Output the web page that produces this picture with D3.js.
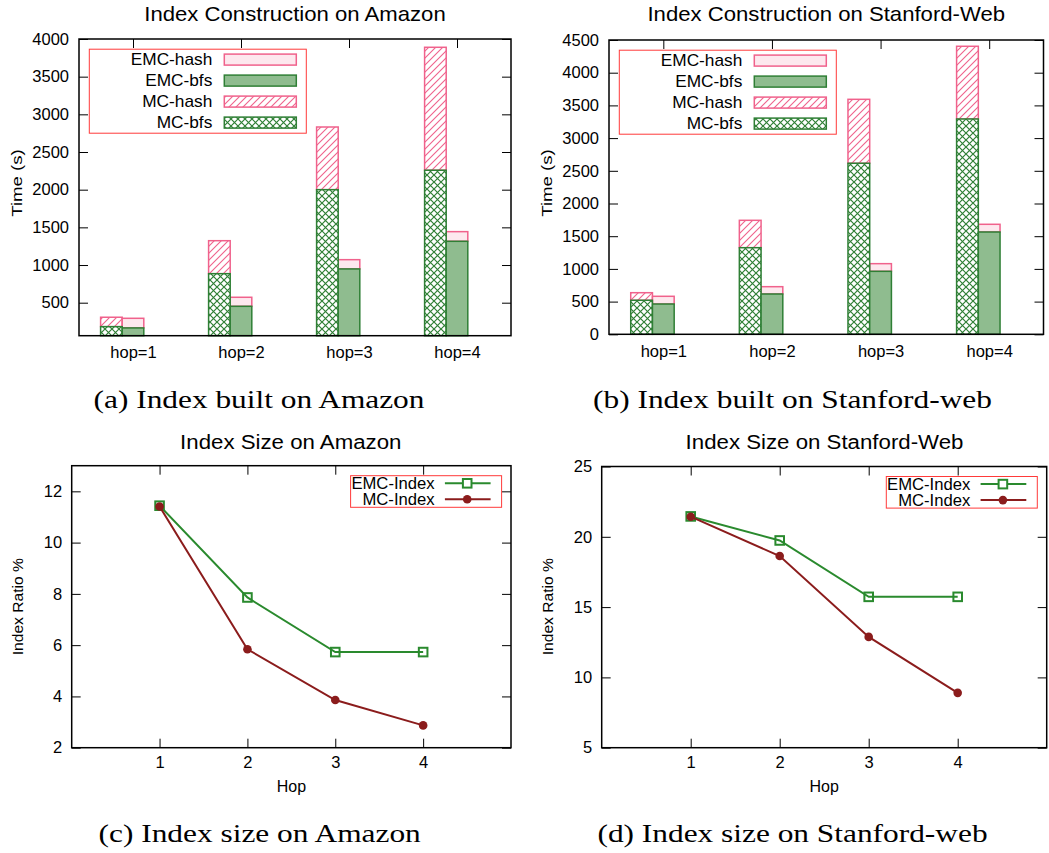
<!DOCTYPE html>
<html>
<head>
<meta charset="utf-8">
<script src="https://cdn.jsdelivr.net/npm/d3@7"></script>
<style>body{margin:0;background:#fff}</style>
</head>
<body>
<script>
// categories
const hops = [1, 2, 3, 4];
const hopLabels = ["hop=1", "hop=2", "hop=3", "hop=4"];

// index construction time (s), stacked: bfs part at the bottom, hash part on top
const mcBfsAmazon = [182, 885, 2000, 2258];
const mcHashAmazon = [125, 438, 832, 1632];
const emcBfsAmazon = [165, 452, 948, 1315];
const emcHashAmazon = [128, 120, 123, 128];

const mcBfsStanford = [520, 1324, 2615, 3292];
const mcHashStanford = [116, 419, 978, 1112];
const emcBfsStanford = [463, 616, 963, 1564];
const emcHashStanford = [118, 112, 117, 118];

// index ratio %
const emcSizeAmazon = [11.44, 7.86, 5.73, 5.73];
const mcSizeAmazon = [11.41, 5.84, 3.86, 2.87];
const emcSizeStanford = [21.45, 19.74, 15.73, 15.73];
const mcSizeStanford = [21.43, 18.63, 12.88, 8.9];

// tick labels
const timeTicksAmazon = [500, 1000, 1500, 2000, 2500, 3000, 3500, 4000];
const timeTicksStanford = [0, 500, 1000, 1500, 2000, 2500, 3000, 3500, 4000, 4500];
const ratioTicksAmazon = [2, 4, 6, 8, 10, 12];
const ratioTicksStanford = [5, 10, 15, 20, 25];

const barLegend = ["EMC-hash", "EMC-bfs", "MC-hash", "MC-bfs"];
const lineLegend = ["EMC-Index", "MC-Index"];

const PINK = "#f0628c";
const PINK_FILL = "#fde8ee";
const GREEN = "#2f7f35";
const GREEN_FILL = "#8fbc8f";
const LINE_GREEN = "#2a8a2e";
const LINE_RED = "#8b1c1c";
const SANS = "'Liberation Sans', Arial, sans-serif";
const SERIF = "'Liberation Serif', 'Times New Roman', serif";
const TICK_SIZE = 16.5;

const svg = d3.select("body").append("svg")
    .attr("width", 1049)
    .attr("height", 853);

const defs = svg.append("defs");
const hatch = defs.append("pattern").attr("id", "hatch")
    .attr("patternUnits", "userSpaceOnUse").attr("width", 7).attr("height", 7);
hatch.append("rect").attr("width", 7).attr("height", 7).attr("fill", "#fff");
hatch.append("path").attr("d", "M0,7L7,0M-1,1L1,-1M6,8L8,6")
    .attr("stroke", PINK).attr("stroke-width", 1.1);
const cross = defs.append("pattern").attr("id", "cross")
    .attr("patternUnits", "userSpaceOnUse").attr("width", 7).attr("height", 7);
cross.append("rect").attr("width", 7).attr("height", 7).attr("fill", "#fff");
cross.append("path").attr("d", "M0,0L7,7M0,7L7,0")
    .attr("stroke", GREEN).attr("stroke-width", 1.2);

function txt(g, x, y, s, size, opt = {}) {
    return g.append("text")
        .attr("transform", `translate(${x},${y})` + (opt.rot ? ` rotate(${opt.rot})` : "") + ` scale(${opt.sx || 1},1)`)
        .attr("text-anchor", opt.anchor || "middle")
        .attr("font-family", opt.serif ? SERIF : SANS)
        .attr("font-size", size)
        .attr("fill", "#000")
        .text(s);
}

function styleAxis(a) {
    a.select(".domain").remove();
    a.attr("font-size", TICK_SIZE).attr("font-family", SANS);
    a.selectAll("line").attr("stroke", "#000").attr("stroke-width", 1);
    a.selectAll("text").attr("fill", "#000");
}

const intFmt = d3.format("d");

function barChart(o) {
    const g = svg.append("g");
    const x = d3.scaleLinear().domain([0.5, 4.5]).range([o.left, o.right]);
    const y = d3.scaleLinear().domain(o.yDomain).range([o.bottom, o.top]);
    const base = o.yDomain[0];

    const rows = hops.map((h, i) => ({
        h,
        mcBfs: o.mcBfs[i], mcTop: o.mcBfs[i] + o.mcHash[i],
        emcBfs: o.emcBfs[i], emcTop: o.emcBfs[i] + o.emcHash[i]
    }));
    const bw = x(0.7) - x(0.5);

    // hash parts first, bfs parts over them
    g.selectAll(".mch").data(rows).join("rect")
        .attr("x", d => x(d.h - 0.3)).attr("width", bw)
        .attr("y", d => y(d.mcTop)).attr("height", d => y(d.mcBfs) - y(d.mcTop))
        .attr("fill", "url(#hatch)").attr("stroke", PINK).attr("stroke-width", 1.5);
    g.selectAll(".emch").data(rows).join("rect")
        .attr("x", d => x(d.h - 0.1)).attr("width", bw)
        .attr("y", d => y(d.emcTop)).attr("height", d => y(d.emcBfs) - y(d.emcTop))
        .attr("fill", PINK_FILL).attr("stroke", PINK).attr("stroke-width", 1.5);
    g.selectAll(".mcb").data(rows).join("rect")
        .attr("x", d => x(d.h - 0.3)).attr("width", bw)
        .attr("y", d => y(d.mcBfs)).attr("height", d => y(base) - y(d.mcBfs))
        .attr("fill", "url(#cross)").attr("stroke", GREEN).attr("stroke-width", 1.5);
    g.selectAll(".emcb").data(rows).join("rect")
        .attr("x", d => x(d.h - 0.1)).attr("width", bw)
        .attr("y", d => y(d.emcBfs)).attr("height", d => y(base) - y(d.emcBfs))
        .attr("fill", GREEN_FILL).attr("stroke", GREEN).attr("stroke-width", 1.5);

    g.append("g").attr("transform", `translate(${o.left},0)`)
        .call(d3.axisLeft(y).tickValues(o.yTicks).tickFormat(intFmt).tickSizeInner(-9).tickSizeOuter(0).tickPadding(10))
        .call(styleAxis);
    g.append("g").attr("transform", `translate(${o.right},0)`)
        .call(d3.axisRight(y).tickValues(o.yTicks).tickSizeInner(-9).tickSizeOuter(0).tickFormat(""))
        .call(styleAxis);
    g.append("g").attr("transform", `translate(0,${o.top})`)
        .call(d3.axisTop(x).tickValues(hops).tickSizeInner(-9).tickSizeOuter(0).tickFormat(""))
        .call(styleAxis);
    g.append("g").attr("transform", `translate(0,${o.bottom})`)
        .call(d3.axisBottom(x).tickValues(hops).tickFormat((d, i) => hopLabels[i]).tickSize(0).tickPadding(11))
        .call(styleAxis);

    g.append("rect").attr("x", o.left).attr("y", o.top)
        .attr("width", o.right - o.left).attr("height", o.bottom - o.top)
        .attr("fill", "none").attr("stroke", "#000").attr("stroke-width", 1.5);

    // legend
    const lx = o.left + 10.3, ly = o.top + 10.2;
    g.append("rect").attr("x", lx).attr("y", ly).attr("width", 217).attr("height", 84)
        .attr("fill", "#fff").attr("stroke", "#ff3a3a").attr("stroke-width", 1);
    const fills = [PINK_FILL, GREEN_FILL, "url(#hatch)", "url(#cross)"];
    const strokes = [PINK, GREEN, PINK, GREEN];
    barLegend.forEach((name, k) => {
        const ry = ly + 10.4 + k * 21;
        txt(g, lx + 123, ry + 5.7, name, 16, {anchor: "end", sx: 1.08});
        g.append("rect").attr("x", lx + 135).attr("y", ry - 5.5).attr("width", 72).attr("height", 11)
            .attr("fill", fills[k]).attr("stroke", strokes[k]).attr("stroke-width", 1.5);
    });

    txt(g, (o.left + o.right) / 2, 20.7, o.title, 20.5, {sx: 1.08});
    txt(g, o.left - 57, 183, "Time (s)", 15.5, {rot: -90, sx: 1.2});
    txt(g, o.captionX, 408.3, o.caption, 25.5, {serif: true, sx: 1.23});
}

function lineChart(o) {
    const g = svg.append("g");
    const x = d3.scaleLinear().domain([0, 5]).range([o.left, o.right]);
    const y = d3.scaleLinear().domain(o.yDomain).range([o.bottom, o.top]);

    g.append("g").attr("transform", `translate(${o.left},0)`)
        .call(d3.axisLeft(y).tickValues(o.yTicks).tickFormat(intFmt).tickSizeInner(-9).tickSizeOuter(0).tickPadding(9.5))
        .call(styleAxis);
    g.append("g").attr("transform", `translate(${o.right},0)`)
        .call(d3.axisRight(y).tickValues(o.yTicks).tickSizeInner(-9).tickSizeOuter(0).tickFormat(""))
        .call(styleAxis);
    g.append("g").attr("transform", `translate(0,${o.top})`)
        .call(d3.axisTop(x).tickValues(hops).tickSizeInner(-9).tickSizeOuter(0).tickFormat(""))
        .call(styleAxis);
    g.append("g").attr("transform", `translate(0,${o.bottom})`)
        .call(d3.axisBottom(x).tickValues(hops).tickFormat(intFmt).tickSizeInner(-9).tickSizeOuter(0).tickPadding(9))
        .call(styleAxis);

    g.append("rect").attr("x", o.left).attr("y", o.top)
        .attr("width", o.right - o.left).attr("height", o.bottom - o.top)
        .attr("fill", "none").attr("stroke", "#000").attr("stroke-width", 1.5);

    const line = d3.line().x((d, i) => x(hops[i])).y(d => y(d));
    g.append("path").attr("d", line(o.emc)).attr("fill", "none")
        .attr("stroke", LINE_GREEN).attr("stroke-width", 2);
    g.selectAll(".sq").data(o.emc).join("rect")
        .attr("x", (d, i) => x(hops[i]) - 4.3).attr("y", d => y(d) - 4.3)
        .attr("width", 8.6).attr("height", 8.6)
        .attr("fill", "none").attr("stroke", LINE_GREEN).attr("stroke-width", 2);
    g.append("path").attr("d", line(o.mc)).attr("fill", "none")
        .attr("stroke", LINE_RED).attr("stroke-width", 2);
    g.selectAll(".dot").data(o.mc).join("circle")
        .attr("cx", (d, i) => x(hops[i])).attr("cy", d => y(d)).attr("r", 4.3)
        .attr("fill", LINE_RED);

    // legend
    const lx = o.right - 9.4 - 151, ly = o.top + 10;
    g.append("rect").attr("x", lx).attr("y", ly).attr("width", 151).attr("height", 31.6)
        .attr("fill", "#fff").attr("stroke", "#ff3a3a").attr("stroke-width", 1);
    lineLegend.forEach((name, k) => {
        const ry = ly + 7.6 + k * 16;
        const col = k === 0 ? LINE_GREEN : LINE_RED;
        txt(g, lx + 84, ry + 5.5, name, 16, {anchor: "end", sx: 1.04});
        g.append("line").attr("x1", lx + 94.3).attr("x2", lx + 140).attr("y1", ry).attr("y2", ry)
            .attr("stroke", col).attr("stroke-width", 2);
        if (k === 0) {
            g.append("rect").attr("x", lx + 116.6 - 4.3).attr("y", ry - 4.3).attr("width", 8.6).attr("height", 8.6)
                .attr("fill", "#fff").attr("stroke", col).attr("stroke-width", 2);
        } else {
            g.append("circle").attr("cx", lx + 116.6).attr("cy", ry).attr("r", 4.3).attr("fill", col);
        }
    });

    txt(g, o.titleX, 449.3, o.title, 21, {sx: 1.06});
    txt(g, o.left - 49, 606.7, "Index Ratio %", 15, {rot: -90, sx: 1.04});
    txt(g, (x(2) + x(3)) / 2, 791.7, "Hop", 16);
    txt(g, o.captionX, 841.7, o.caption, 25.5, {serif: true, sx: 1.23});
}

barChart({
    left: 79, right: 511, top: 39, bottom: 335.7,
    yDomain: [62, 4000], yTicks: timeTicksAmazon,
    mcBfs: mcBfsAmazon, mcHash: mcHashAmazon, emcBfs: emcBfsAmazon, emcHash: emcHashAmazon,
    title: "Index Construction on Amazon",
    caption: "(a) Index built on Amazon", captionX: 259
});
barChart({
    left: 609, right: 1043.5, top: 40, bottom: 334.3,
    yDomain: [0, 4500], yTicks: timeTicksStanford,
    mcBfs: mcBfsStanford, mcHash: mcHashStanford, emcBfs: emcBfsStanford, emcHash: emcHashStanford,
    title: "Index Construction on Stanford-Web",
    caption: "(b) Index built on Stanford-web", captionX: 792.5
});
lineChart({
    left: 71.7, right: 511, top: 465.7, bottom: 747.7,
    yDomain: [2, 13], yTicks: ratioTicksAmazon,
    emc: emcSizeAmazon, mc: mcSizeAmazon,
    title: "Index Size on Amazon", titleX: 290.8,
    caption: "(c) Index size on Amazon", captionX: 259.7
});
lineChart({
    left: 601.7, right: 1046.7, top: 466.5, bottom: 747.7,
    yDomain: [5, 25], yTicks: ratioTicksStanford,
    emc: emcSizeStanford, mc: mcSizeStanford,
    title: "Index Size on Stanford-Web", titleX: 824.5,
    caption: "(d) Index size on Stanford-web", captionX: 792.5
});
</script>
</body>
</html>
